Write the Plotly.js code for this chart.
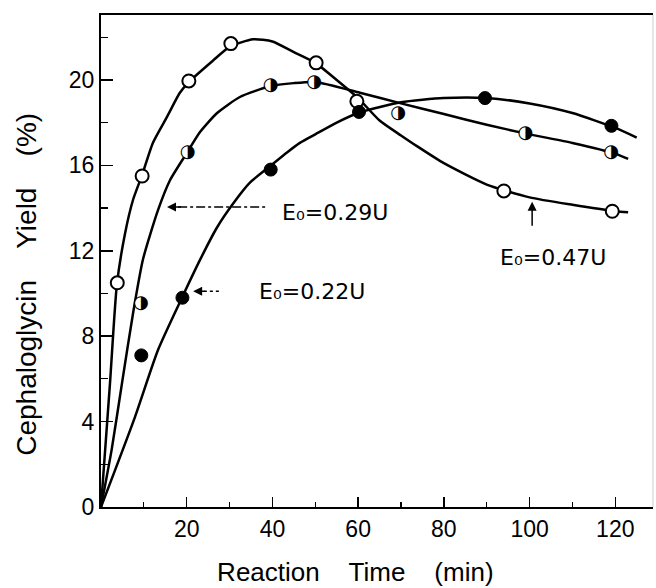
<!DOCTYPE html>
<html>
<head>
<meta charset="utf-8">
<script src="https://cdn.plot.ly/plotly-3.0.1.min.js"></script>
<style>html,body{margin:0;padding:0;background:#fff;}#chart{width:656px;height:588px;}</style>
</head>
<body>
<div id="chart"></div>
<script>
// Smooth fitted curves
const curveX047 = [0, 2.1, 3.7, 5.6, 7.5, 9.6, 12.1, 15.4, 18.4, 20.5, 26.1, 30, 35.5, 40, 45, 50, 55, 60, 65, 70, 73.7, 80, 90, 100, 110, 120, 123];
const curveY047 = [0, 5.8, 10.4, 12.8, 14.4, 15.55, 17.05, 18.27, 19.4, 19.9, 20.9, 21.55, 21.9, 21.8, 21.3, 20.8, 20.0, 19.15, 18.1, 17.4, 16.9, 16.1, 15.1, 14.5, 14.15, 13.85, 13.8];

const curveX029 = [0, 2.5, 4.9, 7.5, 9.8, 13.3, 16.1, 20.1, 23.1, 27.1, 32.4, 39.4, 45, 50, 60.4, 70, 80, 90, 100, 110, 120, 123];
const curveY029 = [0, 2.7, 5.8, 9.1, 11.6, 13.9, 15.3, 16.6, 17.56, 18.45, 19.2, 19.7, 19.85, 19.9, 19.4, 18.9, 18.4, 17.9, 17.45, 17.05, 16.55, 16.3];

const curveX022 = [0, 7.9, 13.3, 18.9, 23.1, 27.1, 30.8, 34.8, 39.4, 43.4, 46.4, 50, 55, 60, 70, 80, 90, 100, 110, 120, 125];
const curveY022 = [0, 4.2, 7.35, 9.8, 11.57, 13.1, 14.2, 15.2, 15.95, 16.6, 17.05, 17.45, 18.0, 18.45, 18.95, 19.15, 19.15, 18.9, 18.45, 17.75, 17.3];

// Measured points
const pointsX047 = [3.8, 9.6, 20.5, 30.3, 50.2, 59.7, 94, 119.3];
const pointsY047 = [10.5, 15.5, 19.95, 21.7, 20.8, 19.0, 14.8, 13.85];

const pointsX029 = [9.3, 20.2, 39.6, 49.7, 69.3, 99, 119];
const pointsY029 = [9.55, 16.6, 19.75, 19.9, 18.45, 17.5, 16.6];

const pointsX022 = [9.4, 19.0, 39.6, 60.2, 89.6, 119.1];
const pointsY022 = [7.1, 9.8, 15.8, 18.5, 19.15, 17.85];

const xTicks = [20, 40, 60, 80, 100, 120];
const yTicks = [0, 4, 8, 12, 16, 20];

const FONT = 'Liberation Sans, Arial, sans-serif';
const LABEL_FONT = 'DejaVu Sans, sans-serif';
const lineStyle = {color: 'black', width: 2.5, shape: 'spline', smoothing: 0.6};
const NB = n => '&nbsp;'.repeat(n);

const traces = [
  {x: curveX047, y: curveY047, mode: 'lines', line: lineStyle, name: 'E0=0.47U fit', hoverinfo: 'skip'},
  {x: curveX029, y: curveY029, mode: 'lines', line: lineStyle, name: 'E0=0.29U fit', hoverinfo: 'skip'},
  {x: curveX022, y: curveY022, mode: 'lines', line: lineStyle, name: 'E0=0.22U fit', hoverinfo: 'skip'},
  {x: pointsX047, y: pointsY047, mode: 'markers', name: 'E0=0.47U',
   marker: {symbol: 'circle', size: 13, color: 'white', line: {color: 'black', width: 2}}},
  {x: pointsX022, y: pointsY022, mode: 'markers', name: 'E0=0.22U',
   marker: {symbol: 'circle', size: 13, color: 'black', line: {color: 'black', width: 1}}},
  {x: pointsX029, y: pointsY029, mode: 'markers', name: 'E0=0.29U bg',
   marker: {symbol: 'circle', size: 12, color: 'white', line: {width: 0}}, hoverinfo: 'skip'},
  {x: pointsX029, y: pointsY029, mode: 'text', name: 'E0=0.29U',
   text: pointsX029.map(() => '◑'), textposition: 'middle center',
   textfont: {family: 'DejaVu Sans', size: 18, color: 'black'}}
];

const layout = {
  width: 656, height: 588,
  margin: {l: 101, r: 3, t: 15, b: 81},
  paper_bgcolor: 'white', plot_bgcolor: 'white',
  showlegend: false,
  font: {family: FONT, color: 'black'},
  xaxis: {
    range: [0, 128.8], tickvals: xTicks, ticktext: xTicks.map(String),
    ticks: 'inside', ticklen: 10, tickwidth: 1.5, tickcolor: 'black',
    showline: true, linecolor: 'black', linewidth: 2, mirror: true,
    showgrid: false, zeroline: false, automargin: false,
    tickfont: {family: FONT, size: 23, color: 'black'},
    minor: {dtick: 10, tick0: 0, ticks: 'inside', ticklen: 5, tickwidth: 1.2, tickcolor: 'black'},
    title: {text: 'Reaction' + NB(4) + 'Time' + NB(4) + '(min)' + NB(6), standoff: 22,
            font: {family: FONT, size: 26, color: 'black'}}
  },
  yaxis: {
    range: [0, 23.04], tickvals: yTicks, ticktext: yTicks.map(String),
    ticks: 'inside', ticklen: 12, tickwidth: 1.5, tickcolor: 'black',
    showline: true, linecolor: 'black', linewidth: 2,
    showgrid: false, zeroline: false, automargin: false,
    tickfont: {family: FONT, size: 23, color: 'black'},
    minor: {dtick: 2, tick0: 0, ticks: 'inside', ticklen: 7, tickwidth: 1.2, tickcolor: 'black'},
    title: {text: 'Cephaloglycin' + NB(4) + 'Yield' + NB(4) + '(%)' + NB(6), standoff: 24,
            font: {family: FONT, size: 28, color: 'black'}}
  },
  shapes: [
    {type: 'line', xref: 'paper', yref: 'paper', x0: 1, x1: 1, y0: 0, y1: 1, line: {color: '#cccccc', width: 1}},
    {type: 'line', xref: 'x', yref: 'y', x0: 18, x1: 39, y0: 14.05, y1: 14.05, line: {color: 'black', width: 1.5, dash: 'dashdot'}},
    {type: 'line', xref: 'x', yref: 'y', x0: 24, x1: 28, y0: 10.1, y1: 10.1, line: {color: 'black', width: 1.5, dash: 'dot'}}
  ],
  annotations: [
    {text: 'E₀=0.29U', xref: 'x', yref: 'y', x: 41.8, y: 13.8, xanchor: 'left', yanchor: 'middle',
     showarrow: false, font: {family: LABEL_FONT, size: 22, color: 'black'}},
    {text: 'E₀=0.22U', xref: 'x', yref: 'y', x: 36.4, y: 10.07, xanchor: 'left', yanchor: 'middle',
     showarrow: false, font: {family: LABEL_FONT, size: 22, color: 'black'}},
    {text: 'E₀=0.47U', xref: 'x', yref: 'y', x: 92.6, y: 11.7, xanchor: 'left', yanchor: 'middle',
     showarrow: false, font: {family: LABEL_FONT, size: 22, color: 'black'}},
    {text: '', xref: 'x', yref: 'y', x: 15.4, y: 14.05, axref: 'x', ayref: 'y', ax: 19, ay: 14.05,
     showarrow: true, arrowhead: 2, arrowsize: 1.2, arrowwidth: 1.5, arrowcolor: 'black'},
    {text: '', xref: 'x', yref: 'y', x: 21.5, y: 10.1, axref: 'x', ayref: 'y', ax: 24.5, ay: 10.1,
     showarrow: true, arrowhead: 2, arrowsize: 1.2, arrowwidth: 1.5, arrowcolor: 'black'},
    {text: '', xref: 'x', yref: 'y', x: 100.6, y: 14.3, axref: 'x', ayref: 'y', ax: 100.6, ay: 13.1,
     showarrow: true, arrowhead: 2, arrowsize: 1.2, arrowwidth: 1.5, arrowcolor: 'black'}
  ]
};

Plotly.newPlot('chart', traces, layout, {staticPlot: true, displayModeBar: false});
</script>
</body>
</html>
